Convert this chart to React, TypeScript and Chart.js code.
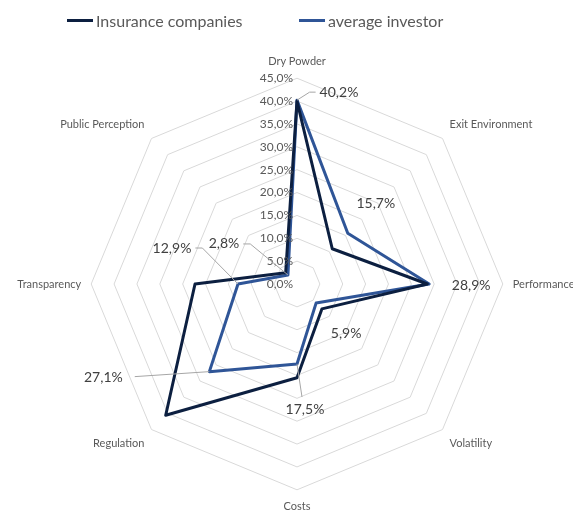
import React, { useEffect, useRef } from 'react';
import { Chart, registerables } from 'chart.js';

Chart.register(...registerables);

const categories = [
  'Dry Powder',
  'Exit Environment',
  'Performance',
  'Volatility',
  'Costs',
  'Regulation',
  'Transparency',
  'Public Perception',
];
const insuranceValues = [40.0, 10.9, 28.5, 7.7, 20.5, 40.6, 22.3, 3.5];
const investorValues = [40.2, 15.7, 28.9, 5.9, 17.5, 27.1, 12.9, 2.8];
const tickValues = [0, 5, 10, 15, 20, 25, 30, 35, 40, 45];
const seriesNames = ['Insurance companies', 'average investor'];
const seriesColors = ['#0c1f40', '#2f5597'];

// label placement (style): offset of the label centre from its point, and leader type
const labelOffsets: [number, number][] = [
  [42, -8], [28, -30], [42, 1], [30, 30], [8, 45], [-106, 6], [-66, -36], [-64, -31],
];
const leaderKinds = ['elbowLeft', 'none', 'none', 'none', 'down', 'straightRight', 'elbowRight', 'elbowRight'];

const fmt = (v: number) => v.toFixed(1).replace('.', ',') + '%';
const FONT = 'Lato, "Open Sans", sans-serif';

const tickPlugin = {
  id: 'tickLabels',
  afterDatasetsDraw(chart: any) {
    const scale = chart.scales.r;
    const ctx = chart.ctx;
    ctx.save();
    ctx.font = `12px ${FONT}`;
    ctx.fillStyle = '#595959';
    ctx.textAlign = 'right';
    ctx.textBaseline = 'middle';
    tickValues.forEach((v) => {
      const d = scale.getDistanceFromCenterForValue(v);
      ctx.fillText(fmt(v), scale.xCenter - 4, scale.yCenter - d);
    });
    ctx.restore();
  },
};

const dataLabelPlugin = {
  id: 'dataLabels',
  afterDatasetsDraw(chart: any) {
    const meta = chart.getDatasetMeta(1);
    const ctx = chart.ctx;
    ctx.save();
    ctx.font = `14px ${FONT}`;
    ctx.textBaseline = 'middle';
    ctx.textAlign = 'center';
    meta.data.forEach((pt: any, i: number) => {
      const text = fmt(investorValues[i]);
      const [ox, oy] = labelOffsets[i];
      const cx = pt.x + ox;
      const cy = pt.y + oy;
      const w = ctx.measureText(text).width;
      const left = cx - w / 2;
      const right = cx + w / 2;
      const kind = leaderKinds[i];
      ctx.strokeStyle = '#a6a6a6';
      ctx.lineWidth = 1;
      ctx.beginPath();
      if (kind === 'elbowLeft') {
        ctx.moveTo(pt.x, pt.y);
        ctx.lineTo(left - 10, cy);
        ctx.lineTo(left - 4, cy);
      } else if (kind === 'elbowRight') {
        ctx.moveTo(pt.x, pt.y);
        ctx.lineTo(right + 11, cy);
        ctx.lineTo(right + 4, cy);
      } else if (kind === 'straightRight') {
        ctx.moveTo(pt.x, pt.y);
        ctx.lineTo(right + 12, cy - 1);
      } else if (kind === 'down') {
        ctx.moveTo(pt.x, pt.y);
        ctx.lineTo(cx - 3, cy - 12);
      }
      ctx.stroke();
      ctx.fillStyle = '#404040';
      ctx.fillText(text, cx, cy);
    });
    ctx.restore();
  },
};

export default function App() {
  const ref = useRef<HTMLCanvasElement | null>(null);
  useEffect(() => {
    if (!ref.current) return;
    const chart = new Chart(ref.current, {
      type: 'radar',
      data: {
        labels: categories,
        datasets: [
          {
            label: seriesNames[0],
            data: insuranceValues,
            borderColor: seriesColors[0],
            backgroundColor: 'transparent',
            borderWidth: 3,
            pointRadius: 0,
            borderJoinStyle: 'round',
            fill: false,
          },
          {
            label: seriesNames[1],
            data: investorValues,
            borderColor: seriesColors[1],
            backgroundColor: 'transparent',
            borderWidth: 3,
            pointRadius: 0,
            borderJoinStyle: 'round',
            fill: false,
          },
        ],
      },
      options: {
        responsive: false,
        animation: false,
        layout: { padding: { top: 55, bottom: 0, left: 0, right: 0 } },
        plugins: { legend: { display: false }, tooltip: { enabled: false } },
        scales: {
          r: {
            min: 0,
            max: 45,
            ticks: { stepSize: 5, display: false },
            grid: { color: '#d9d9d9', lineWidth: 1, circular: false },
            angleLines: { display: false },
            pointLabels: {
              font: { family: FONT, size: 11 },
              color: '#595959',
              padding: 10,
            },
          },
        },
      },
      plugins: [tickPlugin, dataLabelPlugin],
    });
    return () => chart.destroy();
  }, []);

  const legendItem = (name: string, color: string, left: number) => (
    <div
      style={{ position: 'absolute', left, top: 10, display: 'flex', alignItems: 'center', height: 20 }}
    >
      <span style={{ display: 'inline-block', width: 26, height: 3, background: color, marginRight: 3 }} />
      <span style={{ fontFamily: FONT, fontSize: 16, color: '#595959', whiteSpace: 'nowrap' }}>{name}</span>
    </div>
  );

  return (
    <div
      style={{ position: 'fixed', left: 0, top: 0, width: 573, height: 514, background: '#fff', overflow: 'hidden' }}
    >
      <canvas ref={ref} width={592} height={514} style={{ position: 'absolute', left: 0, top: 0 }} />
      {legendItem(seriesNames[0], seriesColors[0], 67)}
      {legendItem(seriesNames[1], seriesColors[1], 299)}
    </div>
  );
}
